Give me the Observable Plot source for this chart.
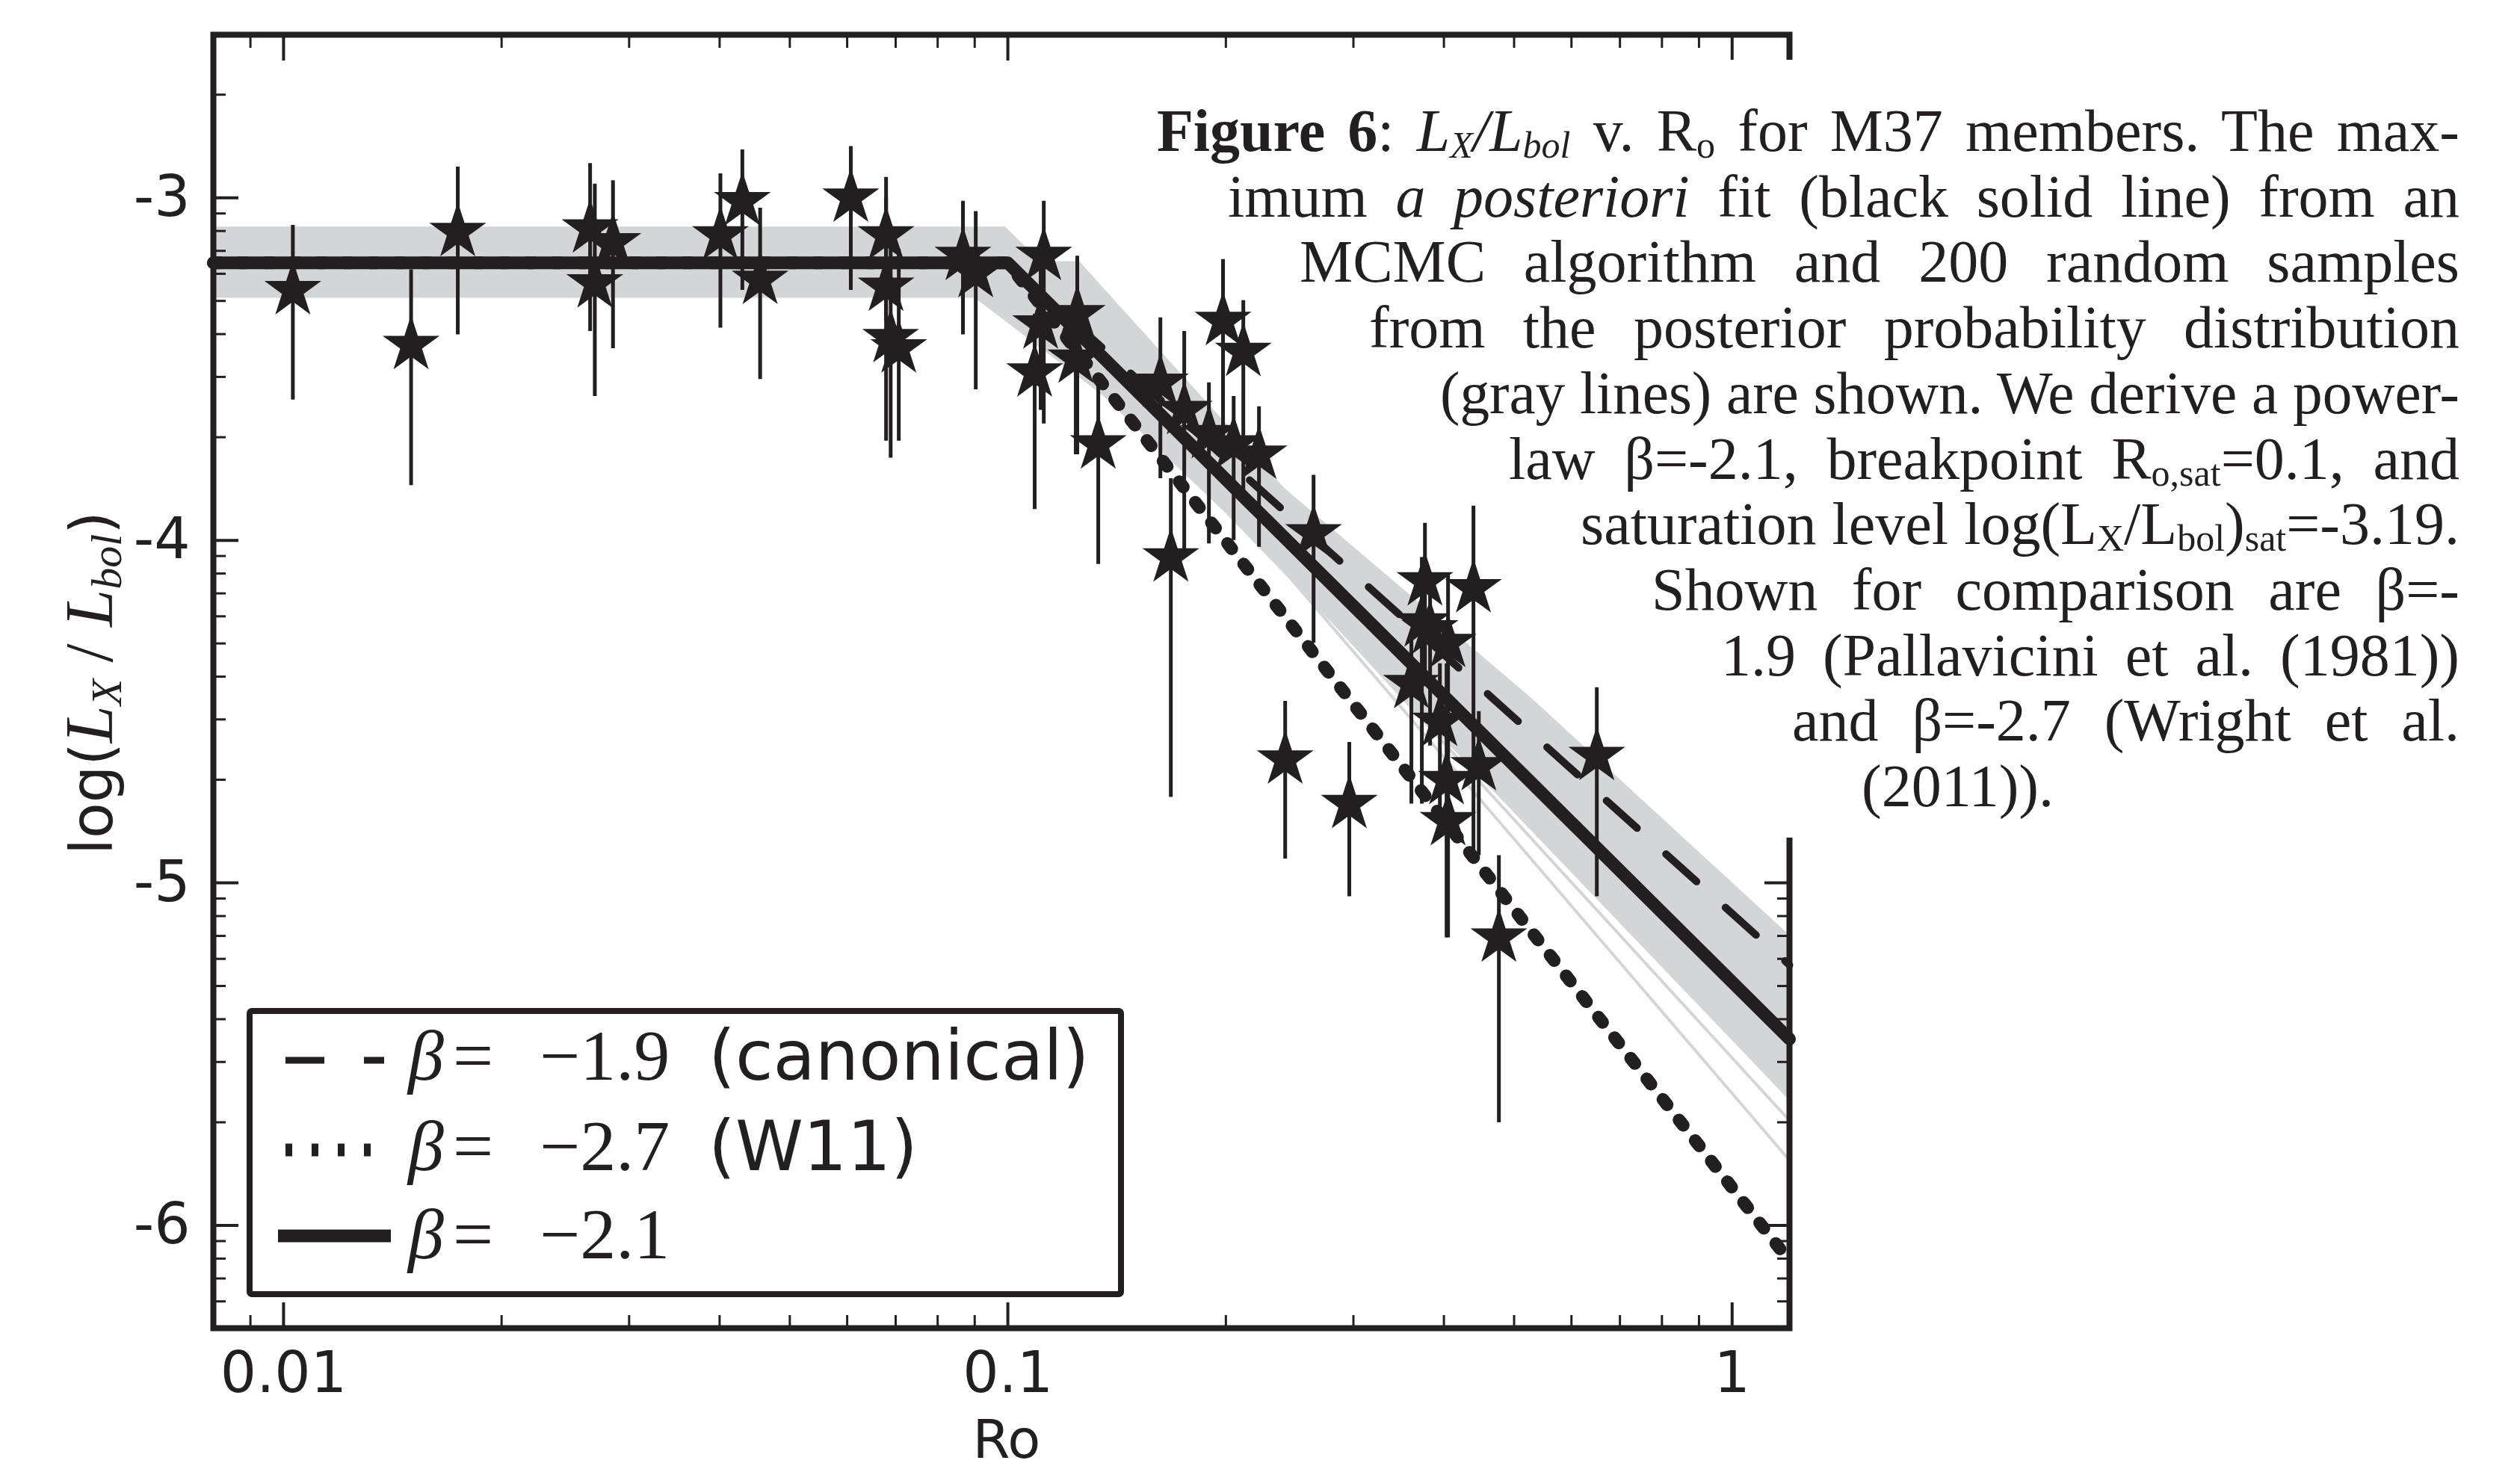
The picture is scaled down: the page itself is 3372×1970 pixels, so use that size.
<!DOCTYPE html>
<html>
<head>
<meta charset="utf-8">
<script src="https://cdn.jsdelivr.net/npm/d3@7"></script>
<script src="https://cdn.jsdelivr.net/npm/@observablehq/plot@0.6"></script>
<style>
html, body { margin: 0; padding: 0; background: #fff; overflow: hidden; }
#wrap { position: relative; width: 3372px; height: 1970px; overflow: hidden; background: #fff; }
#wrap > svg { position: absolute; left: 0; top: 0; }
text { white-space: pre; }
</style>
</head>
<body>
<div id="wrap"></div>
<script>
// ---------------- data ----------------
// M37 members: Rossby number and log(Lx/Lbol) with error-bar ends
const ro = [
  0.0103, 0.0150, 0.0174, 0.0265, 0.0269, 0.0285, 0.0401, 0.0430, 0.0455, 0.0607,
  0.0679, 0.0679, 0.0689, 0.0707, 0.0867, 0.0903,
  0.1121, 0.1110, 0.1247, 0.1089, 0.1241, 0.1333, 0.1624, 0.1752, 0.1679, 0.1982,
  0.2114, 0.1895, 0.2050, 0.2222, 0.2643, 0.2415, 0.2961,
  0.3766, 0.4394, 0.3729, 0.3828, 0.4053, 0.3607, 0.3949, 0.4469, 0.4034, 0.4053,
  0.6504, 0.4764
];
const logLx = [
  -3.27, -3.43, -3.10, -3.09, -3.25, -3.13, -3.11, -3.01, -3.24, -3.00,
  -3.11, -3.26, -3.41, -3.44, -3.17, -3.22,
  -3.17, -3.37, -3.34, -3.51, -3.47, -3.72, -3.54, -3.62, -4.05, -3.36,
  -3.45, -3.69, -3.72, -3.75, -3.98, -4.64, -4.77,
  -4.12, -4.14, -4.24, -4.26, -4.30, -4.42, -4.53, -4.66, -4.70, -4.82,
  -4.63, -5.16
];
const errTop = [
  -3.08, -3.21, -2.91, -2.90, -2.96, -2.95, -2.93, -2.86, -3.03, -2.85,
  -2.94, -3.00, -3.10, -3.15, -3.01, -3.04,
  -3.01, -3.20, -3.17, -3.34, -3.30, -3.52, -3.35, -3.39, -3.82, -3.18,
  -3.30, -3.54, -3.58, -3.61, -3.81, -4.47, -4.59,
  -3.95, -3.90, -4.05, -4.10, -4.10, -4.28, -4.36, -4.50, -4.36, -4.60,
  -4.43, -4.92
];
const errBottom = [
  -3.59, -3.84, -3.40, -3.39, -3.58, -3.44, -3.38, -3.27, -3.53, -3.27,
  -3.36, -3.71, -3.76, -3.71, -3.40, -3.56,
  -3.66, -3.62, -3.75, -3.91, -3.75, -4.07, -3.82, -4.04, -4.75, -3.75,
  -3.88, -4.01, -4.00, -4.02, -4.30, -4.93, -5.04,
  -4.40, -4.92, -4.77, -4.60, -4.77, -4.77, -4.85, -4.92, -5.16, -5.16,
  -5.04, -5.70
];

// fitted / comparison broken power laws (vertices: start, breakpoint, end)
const fitRo     = [0.008, 0.1, 1.2];
const fitMap    = [-3.19, -3.19, -5.456];  // beta = -2.1
const fitCanon  = [-3.19, -3.19, -5.24];   // beta = -1.9
const fitW11    = [-3.19, -3.19, -6.104];  // beta = -2.7

// envelope of the 200 posterior samples (gray band)
const bandUpperRo = [0.008, 0.0992, 0.111, 0.1256, 0.2415, 0.53, 1.2];
const bandUpperV  = [-3.085, -3.085, -3.186, -3.186, -3.85, -4.463, -5.153];
const bandLowerRo = [0.008, 0.008, 0.0901, 0.135, 0.199, 0.311, 1.2];
const bandLowerV  = [-3.293, -3.293, -3.293, -3.576, -3.917, -4.34, -5.635];
// a few outlying posterior samples
const outlierRo = [[0.008, 0.104, 1.2], [0.008, 0.100, 1.2]];
const outlierV  = [[-3.19, -3.19, -5.81], [-3.20, -3.20, -5.694]];

// ticks
const xMajorTicks = [0.01, 0.1, 1];
const xMinorTicks = [0.009, 0.02, 0.03, 0.04, 0.05, 0.06, 0.07, 0.08, 0.09,
                     0.2, 0.3, 0.4, 0.5, 0.6, 0.7, 0.8, 0.9];
const yMajorTicks = [-6, -5, -4, -3];
const yDecades = [-7, -6, -5, -4, -3];
const yMinorSteps = [2, 3, 4, 5, 6, 7, 8, 9];

const legendLabels = [
  {beta: "−1.9", note: "(canonical)"},
  {beta: "−2.7", note: "(W11)"},
  {beta: "−2.1", note: ""}
];

// ---------------- build ----------------
const INK = "#231f20", GRAY = "#d4d5d7";
const W = 3372, H = 1970;
const yDomain = [-6.30, -2.524];

const stars = ro.map((r, i) => ({ro: r, v: logLx[i], hi: errTop[i], lo: errBottom[i]}));
const band = bandUpperRo.map((r, i) => ({x1: r, y1: bandUpperV[i], x2: bandLowerRo[i], y2: bandLowerV[i]}));
const rows = vals => fitRo.map((r, i) => ({ro: r, v: vals[i]}));
const outliers = outlierRo.flatMap((xs, j) => xs.map((r, i) => ({ro: r, v: outlierV[j][i], s: j})));
const yMinorTicks = yDecades.flatMap(n => yMinorSteps.map(k => n + Math.log10(k)))
  .filter(v => v > yDomain[0] + 0.005 && v < yDomain[1] - 0.005);

const blank = () => "";
const plot = Plot.plot({
  width: W, height: H,
  marginLeft: 285, marginRight: W - 2394, marginTop: 46, marginBottom: H - 1777,
  x: {type: "log", domain: [0.008, 1.2]},
  y: {domain: yDomain},
  style: {fontFamily: "DejaVu Sans", fontSize: "76px", color: INK, background: "#fff"},
  marks: [
    Plot.area(band, {x1: "x1", y1: "y1", x2: "x2", y2: "y2", fill: GRAY}),
    Plot.line(outliers, {x: "ro", y: "v", z: "s", stroke: GRAY, strokeWidth: 4}),
    Plot.line(rows(fitW11), {x: "ro", y: "v", stroke: INK, strokeWidth: 17, strokeDasharray: "9,26"}),
    Plot.line(rows(fitCanon), {x: "ro", y: "v", stroke: INK, strokeWidth: 10, strokeDasharray: "55,52"}),
    Plot.line(rows(fitMap), {x: "ro", y: "v", stroke: INK, strokeWidth: 17}),
    Plot.ruleX(stars, {x: "ro", y1: "lo", y2: "hi", stroke: INK, strokeWidth: 5}),
    Plot.dot(stars, {x: "ro", y: "v", symbol: "star", r: 22, fill: INK, stroke: INK, strokeWidth: 2}),
    // tick marks, inward on all four sides
    Plot.axisX(xMajorTicks, {anchor: "bottom", tickSize: -34, strokeWidth: 4, tickFormat: blank, label: null}),
    Plot.axisX(xMajorTicks, {anchor: "top", tickSize: -34, strokeWidth: 4, tickFormat: blank, label: null}),
    Plot.axisX(xMinorTicks, {anchor: "bottom", tickSize: -17, strokeWidth: 3, tickFormat: blank, label: null}),
    Plot.axisX(xMinorTicks, {anchor: "top", tickSize: -17, strokeWidth: 3, tickFormat: blank, label: null}),
    Plot.axisY(yMajorTicks, {anchor: "left", tickSize: -34, strokeWidth: 4, tickFormat: blank, label: null}),
    Plot.axisY(yMajorTicks, {anchor: "right", tickSize: -34, strokeWidth: 4, tickFormat: blank, label: null}),
    Plot.axisY(yMinorTicks, {anchor: "left", tickSize: -17, strokeWidth: 3, tickFormat: blank, label: null}),
    Plot.axisY(yMinorTicks, {anchor: "right", tickSize: -17, strokeWidth: 3, tickFormat: blank, label: null}),
    // tick labels
    Plot.axisX(xMajorTicks, {anchor: "bottom", tickSize: 0, tickPadding: 32, tickFormat: d => String(d), fontSize: 76, label: null}),
    Plot.axisY(yMajorTicks, {anchor: "left", tickSize: 0, tickPadding: 31, tickFormat: d => String(d), fontSize: 76, label: null}),
    Plot.frame({stroke: INK, strokeWidth: 8})
  ]
});
const wrap = document.getElementById("wrap");
wrap.appendChild(plot);

// ---------------- overlay: axis titles, legend, caption ----------------
const ov = d3.select(wrap).append("svg")
  .attr("width", W).attr("height", H)
  .attr("viewBox", `0 0 ${W} ${H}`)
  .style("pointer-events", "none");

// x-axis title
ov.append("text").attr("x", 1347).attr("y", 1951).attr("text-anchor", "middle")
  .attr("font-family", "DejaVu Sans").attr("font-size", 72).attr("fill", INK).text("Ro");

// y-axis title: log(L_X / L_bol)
const yl = ov.append("text").attr("transform", "translate(150,914) rotate(-90)")
  .attr("text-anchor", "middle").attr("fill", INK);
yl.append("tspan").attr("font-family", "DejaVu Sans").attr("font-size", 78).text("log(");
yl.append("tspan").attr("font-family", "Liberation Serif").attr("font-style", "italic").attr("font-size", 90).text("L");
yl.append("tspan").attr("font-family", "Liberation Serif").attr("font-style", "italic").attr("font-size", 58).attr("dy", 12).text("X");
yl.append("tspan").attr("font-family", "Liberation Serif").attr("font-size", 90).attr("dy", -12).text(" / ");
yl.append("tspan").attr("font-family", "Liberation Serif").attr("font-style", "italic").attr("font-size", 90).text("L");
yl.append("tspan").attr("font-family", "Liberation Serif").attr("font-style", "italic").attr("font-size", 58).attr("dy", 12).text("bol");
yl.append("tspan").attr("font-family", "DejaVu Sans").attr("font-size", 78).attr("dy", -12).text(")");

// legend
const lg = ov.append("g");
lg.append("rect").attr("x", 334).attr("y", 1353).attr("width", 1166).attr("height", 379)
  .attr("rx", 3).attr("fill", "#fff").attr("stroke", INK).attr("stroke-width", 8);
const sampleStyles = [
  {x1: 382, x2: 514, w: 9, dash: "52,53"},
  {x1: 382, x2: 496, w: 17, dash: "9,26"},
  {x1: 372, x2: 523, w: 17, dash: null}
];
const rowBase = [1445, 1566, 1684];
const rowLine = [1419, 1539, 1654];
legendLabels.forEach((d, i) => {
  const s = sampleStyles[i];
  const ln = lg.append("line").attr("x1", s.x1).attr("x2", s.x2)
    .attr("y1", rowLine[i]).attr("y2", rowLine[i])
    .attr("stroke", INK).attr("stroke-width", s.w);
  if (s.dash) ln.attr("stroke-dasharray", s.dash);
  const y = rowBase[i];
  lg.append("text").attr("x", 546).attr("y", y).attr("font-family", "Liberation Serif")
    .attr("font-style", "italic").attr("font-size", 96).attr("fill", INK).text("β");
  lg.append("text").attr("x", 606).attr("y", y).attr("font-family", "Liberation Serif")
    .attr("font-size", 96).attr("fill", INK).text("=");
  lg.append("text").attr("x", 722).attr("y", y).attr("font-family", "Liberation Serif")
    .attr("font-size", 96).attr("fill", INK).text(d.beta);
  if (d.note) lg.append("text").attr("x", 948).attr("y", y).attr("font-family", "DejaVu Sans")
    .attr("font-size", 92).attr("fill", INK).text(d.note);
});

// caption (justified, right edge aligned) on a white backing
const captionLines = [
  [["Figure 6", "b"], [": ", "r"], ["L", "i"], ["X", "isub"], ["/L", "i"], ["bol", "isub"], [" v. R", "r"], ["o", "sub"], [" for M37 members. The max-", "r"]],
  [["imum ", "r"], ["a posteriori", "i"], [" fit (black solid line) from an", "r"]],
  [["MCMC algorithm and 200 random samples", "r"]],
  [["from the posterior probability distribution", "r"]],
  [["(gray lines) are shown. We derive a power-", "r"]],
  [["law β=-2.1, breakpoint R", "r"], ["o,sat", "sub"], ["=0.1, and", "r"]],
  [["saturation level log(L", "r"], ["X", "sub"], ["/L", "r"], ["bol", "sub"], [")", "r"], ["sat", "sub"], ["=-3.19.", "r"]],
  [["Shown for comparison are β=-", "r"]],
  [["1.9 (Pallavicini et al. (1981))", "r"]],
  [["and β=-2.7 (Wright et al.", "r"]],
  [["(2011)).", "r"]]
];
const capLeft = [1548, 1643, 1739, 1832, 1927, 2019, 2115, 2210, 2303, 2398, 2491];
const capRight = 3291;
const capFont = 80;
const capBase = captionLines.map((_, li) => 202 + li * 87.7);

// white backing behind the caption (hides the frame there, as in the figure)
const bg = ov.append("g");
captionLines.forEach((_, li) => {
  const top = li === 0 ? 80 : capBase[li] - 66;
  const bottom = li === captionLines.length - 1 ? capBase[li] + 22 : capBase[li + 1] - 66;
  const left = capLeft[li] - 15;
  bg.append("rect").attr("x", left).attr("y", top).attr("width", W - left)
    .attr("height", bottom - top).attr("fill", "#fff");
});
bg.append("rect").attr("x", 2368).attr("y", 80).attr("width", W - 2368)
  .attr("height", 1121 - 80).attr("fill", "#fff");

captionLines.forEach((segs, li) => {
  const t = ov.append("text").attr("x", capLeft[li]).attr("y", capBase[li])
    .attr("font-family", "Liberation Serif").attr("font-size", capFont).attr("fill", INK);
  let shift = 0;
  for (const [s, st] of segs) {
    const ts = t.append("tspan").text(s);
    const sub = st === "sub" || st === "isub";
    if (st === "b") ts.attr("font-weight", "bold");
    if (st === "i" || st === "isub") ts.attr("font-style", "italic");
    if (sub) ts.attr("font-size", Math.round(capFont * 0.62));
    const want = sub ? 9 : 0;
    if (want !== shift) { ts.attr("dy", want - shift); shift = want; }
  }
  if (li < captionLines.length - 1) {
    const target = capRight - capLeft[li];
    const w = t.node().getComputedTextLength();
    const n = (t.text().match(/ /g) || []).length;
    if (w <= target) {
      if (n > 0) t.style("word-spacing", ((target - w) / n) + "px");
    } else {
      t.attr("textLength", target).attr("lengthAdjust", "spacingAndGlyphs");
    }
  }
});
</script>
</body>
</html>
